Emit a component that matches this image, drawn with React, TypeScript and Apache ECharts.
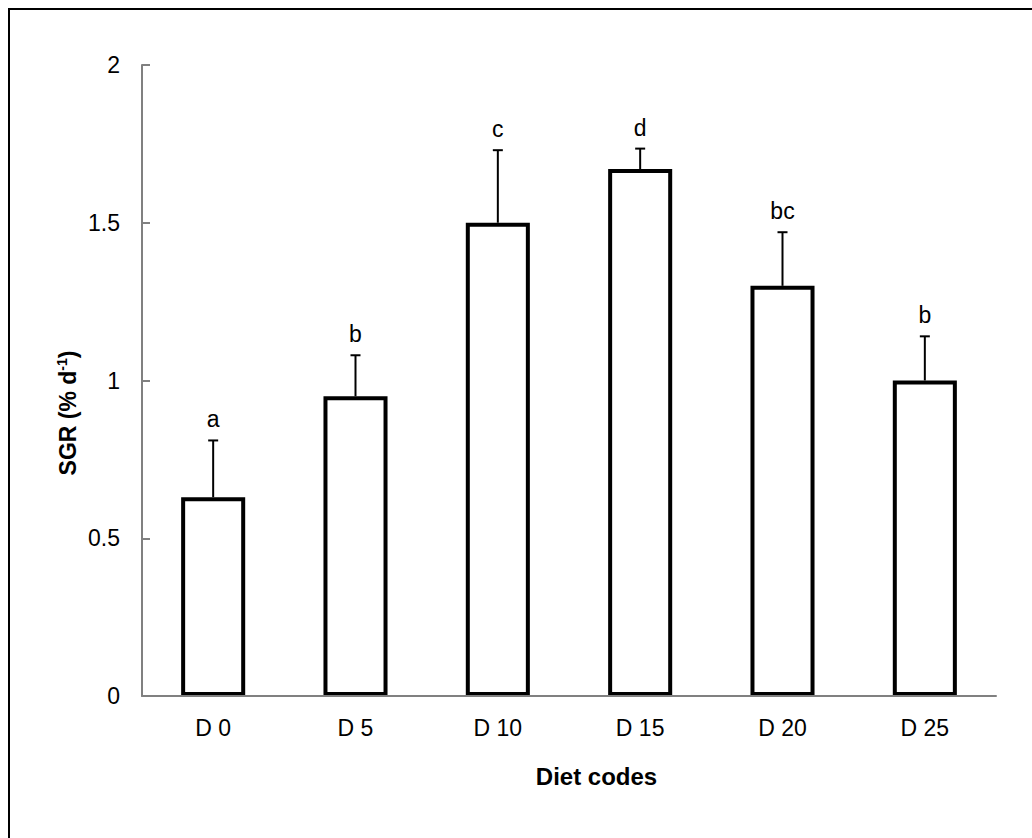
import React, { useEffect, useRef } from "react";
import * as echarts from "echarts";

const categories = ["D 0", "D 5", "D 10", "D 15", "D 20", "D 25"];
const sgrValues = [0.63, 0.95, 1.5, 1.67, 1.3, 1.0];
const sgrErrors = [0.18, 0.13, 0.23, 0.065, 0.17, 0.14];
const letters = ["a", "b", "c", "d", "bc", "b"];
const yTicks = { min: 0, max: 2, interval: 0.5 };

const FONT = "Liberation Sans, Arial, Helvetica, sans-serif";

export default function App() {
  const ref = useRef<HTMLDivElement>(null);
  useEffect(() => {
    if (!ref.current) return;
    const chart = echarts.init(ref.current, undefined, { renderer: "svg" });
    const errData = sgrValues.map((v, i) => [i, v, sgrErrors[i], letters[i]]);
    chart.setOption({
      animation: false,
      backgroundColor: "#fff",
      grid: { left: 132, top: 55, right: 36, bottom: 142 },
      xAxis: {
        type: "category",
        data: categories,
        z: 5,
        axisLine: { lineStyle: { color: "#808080", width: 2 } },
        axisTick: { inside: true, length: 8, lineStyle: { color: "#808080", width: 2 } },
        axisLabel: { color: "#000", fontSize: 23, fontFamily: FONT, margin: 20 },
      },
      yAxis: {
        type: "value",
        min: yTicks.min,
        max: yTicks.max,
        interval: yTicks.interval,
        z: 5,
        splitLine: { show: false },
        axisLine: { show: true, lineStyle: { color: "#808080", width: 2 } },
        axisTick: { show: true, inside: true, length: 8, lineStyle: { color: "#808080", width: 2 } },
        axisLabel: { color: "#000", fontSize: 23, fontFamily: FONT, margin: 22 },
      },
      series: [
        {
          type: "bar",
          data: sgrValues,
          barWidth: "45%",
          itemStyle: { color: "#fff", borderColor: "#000", borderWidth: 4 },
          z: 2,
        },
        {
          type: "custom",
          z: 3,
          data: errData,
          renderItem: (params: any, api: any) => {
            const i = api.value(0);
            const v = api.value(1);
            const e = api.value(2);
            const top = api.coord([i, v]);
            const cap = api.coord([i, v + e]);
            const hw = 5;
            return {
              type: "group",
              children: [
                {
                  type: "line",
                  shape: { x1: top[0], y1: top[1], x2: cap[0], y2: cap[1] },
                  style: { stroke: "#000", lineWidth: 2 },
                },
                {
                  type: "line",
                  shape: { x1: cap[0] - hw, y1: cap[1], x2: cap[0] + hw, y2: cap[1] },
                  style: { stroke: "#000", lineWidth: 2 },
                },
                {
                  type: "text",
                  x: cap[0],
                  y: cap[1] - 21,
                  style: {
                    text: letters[params.dataIndex],
                    fill: "#000",
                    font: `23px ${FONT}`,
                    align: "center",
                    verticalAlign: "middle",
                  },
                },
              ],
            };
          },
        },
      ],
      graphic: [
        {
          type: "text",
          x: 57.5,
          y: 403,
          rotation: Math.PI / 2,
          style: {
            text: "{n|SGR (% d}{s|-1}{n|)}",
            align: "center",
            verticalAlign: "middle",
            fill: "#000",
            rich: {
              n: { fontSize: 23, fontWeight: "bold", fontFamily: FONT, fill: "#000" },
              s: { fontSize: 14, fontWeight: "bold", fontFamily: FONT, fill: "#000", padding: [0, 0, 12, 0] },
            },
          },
        },
        {
          type: "text",
          x: 586.5,
          y: 766.7,
          style: {
            text: "Diet codes",
            align: "center",
            verticalAlign: "middle",
            fill: "#000",
            font: `bold 24px ${FONT}`,
          },
        },
      ],
    });
    return () => chart.dispose();
  }, []);

  return (
    <div style={{ position: "fixed", left: 0, top: 0, width: 1032, height: 838, overflow: "hidden", background: "#fff" }}>
      <div
        style={{
          position: "absolute",
          left: 8,
          top: 8,
          width: 1200,
          height: 1000,
          borderLeft: "2px solid #000",
          borderTop: "2px solid #000",
        }}
      />
      <div ref={ref} style={{ position: "absolute", left: 10, top: 10, width: 1022, height: 828 }} />
    </div>
  );
}
